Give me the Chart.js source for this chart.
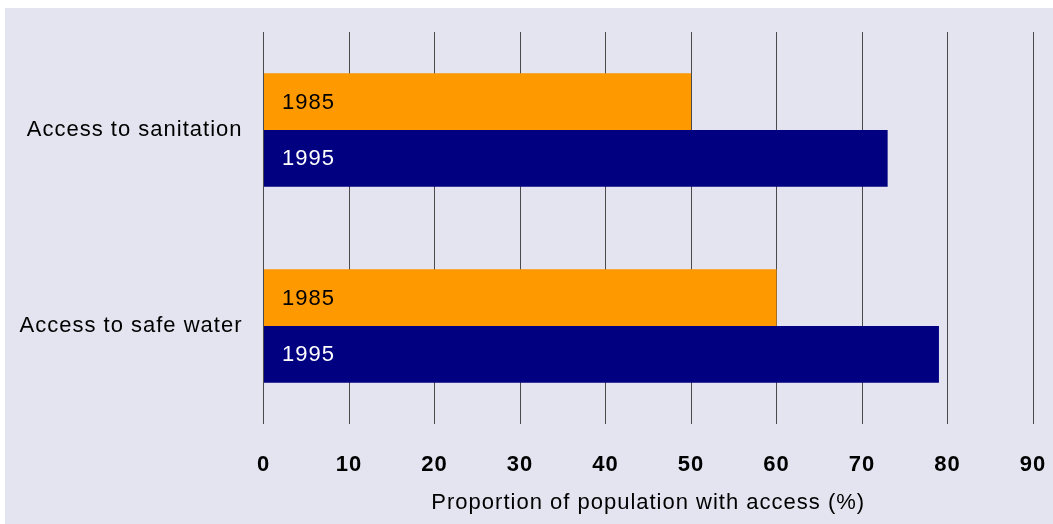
<!DOCTYPE html>
<html>
<head>
<meta charset="utf-8">
<script src="https://cdn.jsdelivr.net/npm/chart.js@4/dist/chart.umd.min.js"></script>
<style>
  html, body { margin: 0; padding: 0; background: #ffffff; }
  #wrap {
    position: absolute; left: 5px; top: 8px;
    width: 1048px; height: 516px;
    background: #e4e4f0;
  }
</style>
</head>
<body>
<div id="wrap"><canvas id="chart"></canvas></div>
<script>
const categories = ['Access to sanitation', 'Access to safe water'];
const years = ['1985', '1995'];
const values1985 = [50, 60];
const values1995 = [73, 79];
const xTicks = [0, 10, 20, 30, 40, 50, 60, 70, 80, 90];

const FONT = 'Arial, "Liberation Sans", sans-serif';

// slightly wider letter spacing for all canvas text
const spacing = {
  id: 'spacing',
  beforeUpdate(chart) { chart.ctx.letterSpacing = '1px'; },
  beforeDraw(chart) { chart.ctx.letterSpacing = '1px'; }
};

// year label written inside the start of each bar
const barLabels = {
  id: 'barLabels',
  afterDatasetsDraw(chart) {
    const ctx = chart.ctx;
    ctx.save();
    ctx.font = '22px ' + FONT;
    ctx.textAlign = 'left';
    ctx.textBaseline = 'middle';
    chart.data.datasets.forEach((ds, i) => {
      chart.getDatasetMeta(i).data.forEach(bar => {
        ctx.fillStyle = ds.textColor;
        ctx.fillText(ds.label, bar.base + 18, bar.y + 1);
      });
    });
    ctx.restore();
  }
};

new Chart(document.getElementById('chart'), {
  type: 'bar',
  data: {
    labels: categories,
    datasets: [
      { label: years[0], data: values1985, backgroundColor: '#ff9900', textColor: '#000000' },
      { label: years[1], data: values1995, backgroundColor: '#000080', textColor: '#ffffff' }
    ]
  },
  options: {
    indexAxis: 'y',
    responsive: true,
    maintainAspectRatio: false,
    animation: false,
    categoryPercentage: 0.58,
    barPercentage: 1,
    layout: { padding: { top: 24, right: 20, bottom: 0, left: 0 } },
    plugins: {
      legend: { display: false },
      tooltip: { enabled: false }
    },
    scales: {
      x: {
        min: 0,
        max: 90,
        afterBuildTicks(scale) { scale.ticks = xTicks.map(v => ({ value: v })); },
        afterFit(scale) {
          scale.height = 100;
          scale.paddingLeft = 0;
          scale.paddingRight = 0;
        },
        grid: { color: '#4a4a4a', lineWidth: 1, drawTicks: false },
        border: { display: false },
        ticks: {
          padding: 28,
          color: '#000000',
          font: { family: FONT, size: 22, weight: 'bold' }
        },
        title: {
          display: true,
          text: 'Proportion of population with access (%)',
          color: '#000000',
          font: { family: FONT, size: 22 },
          padding: { top: 0, bottom: 8 }
        }
      },
      y: {
        afterFit(scale) {
          scale.width = 258.5;
          scale.paddingTop = 0;
          scale.paddingBottom = 0;
        },
        grid: { display: false, drawTicks: false },
        border: { display: false },
        ticks: {
          padding: 21,
          color: '#000000',
          font: { family: FONT, size: 22 }
        }
      }
    }
  },
  plugins: [spacing, barLabels]
});
</script>
</body>
</html>
